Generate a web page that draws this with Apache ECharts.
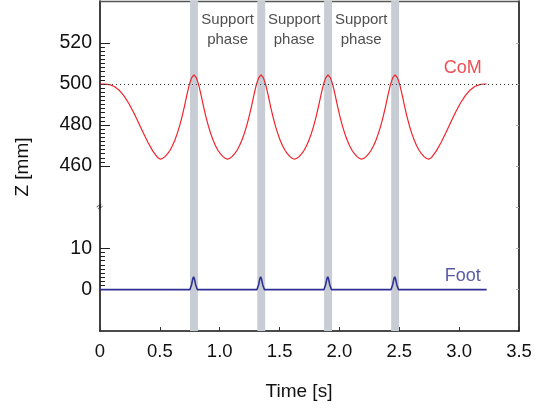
<!DOCTYPE html>
<html><head><meta charset="utf-8">
<script src="https://cdn.jsdelivr.net/npm/echarts@6/dist/echarts.min.js"></script>
<style>html,body{margin:0;padding:0;background:#fff}#c{width:546px;height:411px}</style>
</head><body><div id="c"></div>
<script>
// ---- data ----
const xTicks = [0, 0.5, 1.0, 1.5, 2.0, 2.5, 3.0, 3.5];
const xTickLabels = ['0', '0.5', '1.0', '1.5', '2.0', '2.5', '3.0', '3.5'];
const comTicks = [460, 480, 500, 520];
const comMinorTicks = [460,462,464,466,468,470,472,474,476,478,480,482,484,486,488,490,492,494,496,498,500,502,504,506,508,510,512,514,516,518,520];
const footTicks = [0, 10];
const footMinorTicks = [0,1,2,3,4,5,6,7,8,9,10];
const rightComTicks = [460, 480, 500, 520];
const rightFootTicks = [0, 10, 20];

const comTime = [0.00,0.04,0.08,0.12,0.16,0.20,0.24,0.28,0.32,0.36,0.40,0.44,0.48,
 0.505,0.525,0.545,0.565,0.585,0.605,0.625,0.645,0.665,0.685,0.705,0.725,0.745,0.765,0.785,
 0.805,0.825,0.845,0.865,0.885,0.905,0.925,0.945,0.965,0.985,1.005,1.025,1.045,1.065,
 1.085,1.105,1.125,1.145,1.165,1.185,1.205,1.225,1.245,1.265,1.285,1.305,1.325,1.345,
 1.365,1.385,1.405,1.425,1.445,1.465,1.485,1.505,1.525,1.545,1.565,1.585,1.605,1.625,
 1.645,1.665,1.685,1.705,1.725,1.745,1.765,1.785,1.805,1.825,1.845,1.865,1.885,1.905,
 1.925,1.945,1.965,1.985,2.005,2.025,2.045,2.065,2.085,2.105,2.125,2.145,2.165,2.185,
 2.205,2.225,2.245,2.265,2.285,2.305,2.325,2.345,2.365,2.385,2.405,2.425,2.445,2.465,
 2.485,2.505,2.525,2.545,2.565,2.585,2.605,2.625,2.645,2.665,2.685,2.705,2.725,2.745,
 2.77,2.81,2.85,2.89,2.93,2.97,3.01,3.05,3.09,3.13,3.17,3.21,3.23];
const comZ = [500.0,500.0,499.7,498.8,497.0,494.2,490.6,486.2,481.4,476.4,471.6,467.4,464.2,
 463.3,463.8,464.7,466.0,467.7,469.9,472.6,475.8,479.6,484.0,489.0,494.5,499.5,503.0,504.5,
 503.0,499.5,494.5,489.0,484.0,479.6,475.8,472.6,469.9,467.7,466.0,464.7,463.8,463.3,
 463.8,464.7,466.0,467.7,469.9,472.6,475.8,479.6,484.0,489.0,494.5,499.5,503.0,504.5,
 503.0,499.5,494.5,489.0,484.0,479.6,475.8,472.6,469.9,467.7,466.0,464.7,463.8,463.3,
 463.8,464.7,466.0,467.7,469.9,472.6,475.8,479.6,484.0,489.0,494.5,499.5,503.0,504.5,
 503.0,499.5,494.5,489.0,484.0,479.6,475.8,472.6,469.9,467.7,466.0,464.7,463.8,463.3,
 463.8,464.7,466.0,467.7,469.9,472.6,475.8,479.6,484.0,489.0,494.5,499.5,503.0,504.5,
 503.0,499.5,494.5,489.0,484.0,479.6,475.8,472.6,469.9,467.7,466.0,464.7,463.8,463.3,
 464.2,467.4,471.6,476.4,481.4,486.2,490.6,494.2,497.0,498.8,499.7,500.0,500.0];

const footTime = [0,
 0.750,0.765,0.775,0.782,0.789,0.799,0.814,
 1.310,1.325,1.335,1.342,1.349,1.359,1.374,
 1.870,1.885,1.895,1.902,1.909,1.919,1.934,
 2.430,2.445,2.455,2.462,2.469,2.479,2.494,
 3.23];
const footZ = [0,
 0,1.2,2.6,3.1,2.6,1.2,0,
 0,1.2,2.6,3.1,2.6,1.2,0,
 0,1.2,2.6,3.1,2.6,1.2,0,
 0,1.2,2.6,3.1,2.6,1.2,0,
 0];

const bandStart = [0.752, 1.314, 1.872, 2.432];
const bandEnd   = [0.818, 1.380, 1.938, 2.498];
const comRef = 500;

const supportLabelX = [1.066, 1.622, 2.182];
const supportLabelY = 526.3;
const supportText = 'Support\nphase';

// ---- chart ----
const FONT = 'Liberation Sans, Arial, Helvetica, sans-serif';
const comData = comTime.map((t, i) => [t, comZ[i]]);
const footData = footTime.map((t, i) => [t, footZ[i]]);
const bandAreas = bandStart.map((s, i) => [{ xAxis: s }, { xAxis: bandEnd[i] }]);

const chart = echarts.init(document.getElementById('c'), null, { renderer: 'canvas' });
const axisLineStyle = { color: '#111', width: 1.6 };
chart.setOption({
  animation: false,
  backgroundColor: '#fff',
  grid: [
    { left: 100, right: 27, top: 1, height: 206 },
    { left: 100, right: 27, top: 207, height: 124 }
  ],
  xAxis: [
    { gridIndex: 0, type: 'value', min: 0, max: 3.5, position: 'top',
      axisLine: { show: true, lineStyle: { color: '#555', width: 1.4 } },
      axisTick: { show: false }, axisLabel: { show: false }, splitLine: { show: false } },
    { gridIndex: 1, type: 'value', min: 0, max: 3.5, interval: 0.5, position: 'bottom',
      axisLine: { show: true, onZero: false, lineStyle: axisLineStyle },
      axisTick: { show: true, inside: true, length: 4, lineStyle: { color: '#333', width: 1 } },
      axisLabel: { fontSize: 18.5, color: '#111', fontFamily: FONT, margin: 11,
        formatter: v => { const i = xTicks.findIndex(t => Math.abs(t - v) < 1e-6); return i >= 0 ? xTickLabels[i] : ''; } },
      splitLine: { show: false } }
  ],
  yAxis: [
    { gridIndex: 0, type: 'value', min: 440, max: 540.5, position: 'left',
      axisLine: { show: true, onZero: false, lineStyle: axisLineStyle },
      axisTick: { show: true, inside: true, length: 5, customValues: comMinorTicks, lineStyle: { color: '#222', width: 1 } },
      axisLabel: { show: false }, splitLine: { show: false } },
    { gridIndex: 0, type: 'value', min: 440, max: 540.5, position: 'left',
      axisLine: { show: false },
      axisTick: { show: true, inside: true, length: 10, customValues: comTicks, lineStyle: { color: '#222', width: 1 } },
      axisLabel: { show: true, customValues: comTicks, fontSize: 19.5, color: '#111', fontFamily: FONT, margin: 8 },
      splitLine: { show: false } },
    { gridIndex: 0, type: 'value', min: 440, max: 540.5, position: 'right',
      axisLine: { show: true, onZero: false, lineStyle: axisLineStyle },
      axisTick: { show: true, inside: true, length: 3, customValues: rightComTicks, lineStyle: { color: '#aaa', width: 1 } },
      axisLabel: { show: false }, splitLine: { show: false } },
    { gridIndex: 1, type: 'value', min: -10, max: 20, position: 'left',
      axisLine: { show: true, onZero: false, lineStyle: axisLineStyle },
      axisTick: { show: true, inside: true, length: 5, customValues: footMinorTicks, lineStyle: { color: '#222', width: 1 } },
      axisLabel: { show: false }, splitLine: { show: false } },
    { gridIndex: 1, type: 'value', min: -10, max: 20, position: 'left',
      axisLine: { show: false },
      axisTick: { show: true, inside: true, length: 10, customValues: footTicks, lineStyle: { color: '#222', width: 1 } },
      axisLabel: { show: true, customValues: footTicks, fontSize: 19.5, color: '#111', fontFamily: FONT, margin: 8 },
      splitLine: { show: false } },
    { gridIndex: 1, type: 'value', min: -10, max: 20, position: 'right',
      axisLine: { show: true, onZero: false, lineStyle: axisLineStyle },
      axisTick: { show: true, inside: true, length: 3, customValues: rightFootTicks, lineStyle: { color: '#aaa', width: 1 } },
      axisLabel: { show: false }, splitLine: { show: false } }
  ],
  series: [
    { name: 'bandsTop', type: 'line', xAxisIndex: 0, yAxisIndex: 0, data: [], z: 1, silent: true,
      markArea: { silent: true, itemStyle: { color: '#c8ccd4', opacity: 1 }, data: bandAreas } },
    { name: 'bandsBottom', type: 'line', xAxisIndex: 1, yAxisIndex: 3, data: [], z: 1, silent: true,
      markArea: { silent: true, itemStyle: { color: '#c8ccd4', opacity: 1 }, data: bandAreas } },
    { name: 'ref', type: 'line', xAxisIndex: 0, yAxisIndex: 0, data: [], z: 2, silent: true,
      markLine: { silent: true, symbol: 'none', label: { show: false },
        lineStyle: { color: '#333', width: 1, type: [1, 3] }, data: [{ yAxis: comRef }] } },
    { name: 'CoM', type: 'line', xAxisIndex: 0, yAxisIndex: 0, data: comData, z: 3,
      showSymbol: false, symbol: 'none', lineStyle: { color: '#f0232b', width: 1.2 }, itemStyle: { color: '#f0232b' } },
    { name: 'Foot', type: 'line', xAxisIndex: 1, yAxisIndex: 3, data: footData, z: 3,
      showSymbol: false, symbol: 'none', lineStyle: { color: '#2e3192', width: 1.6 }, itemStyle: { color: '#2e3192' } },
    { name: 'labelsTop', type: 'scatter', xAxisIndex: 0, yAxisIndex: 0, symbolSize: 0, z: 5, silent: true,
      data: supportLabelX.map(x => ({ value: [x, supportLabelY], label: { formatter: supportText, color: '#222', fontSize: 15, lineHeight: 20 } }))
        .concat([{ value: [3.03, 507.8], label: { formatter: 'CoM', color: '#ee2228', fontSize: 18 } }]),
      label: { show: true, position: 'inside', fontFamily: FONT, align: 'center', verticalAlign: 'middle' } },
    { name: 'labelsBottom', type: 'scatter', xAxisIndex: 1, yAxisIndex: 3, symbolSize: 0, z: 5, silent: true,
      data: [{ value: [3.03, 3.3], label: { formatter: 'Foot', color: '#2e3192', fontSize: 18 } },
             { value: [0, 20], label: { formatter: '≈', color: '#111', fontSize: 11, rotate: 35 } }],
      label: { show: true, position: 'inside', fontFamily: FONT, align: 'center', verticalAlign: 'middle' } }
  ],
  graphic: [
    { type: 'text', x: 23, y: 167, rotation: Math.PI / 2,
      style: { text: 'Z [mm]', font: '19px ' + FONT, fill: '#111', align: 'center', verticalAlign: 'middle' } },
    { type: 'text', x: 299, y: 392,
      style: { text: 'Time [s]', font: '19px ' + FONT, fill: '#111', align: 'center', verticalAlign: 'middle' } }
  ]
});
</script></body></html>
